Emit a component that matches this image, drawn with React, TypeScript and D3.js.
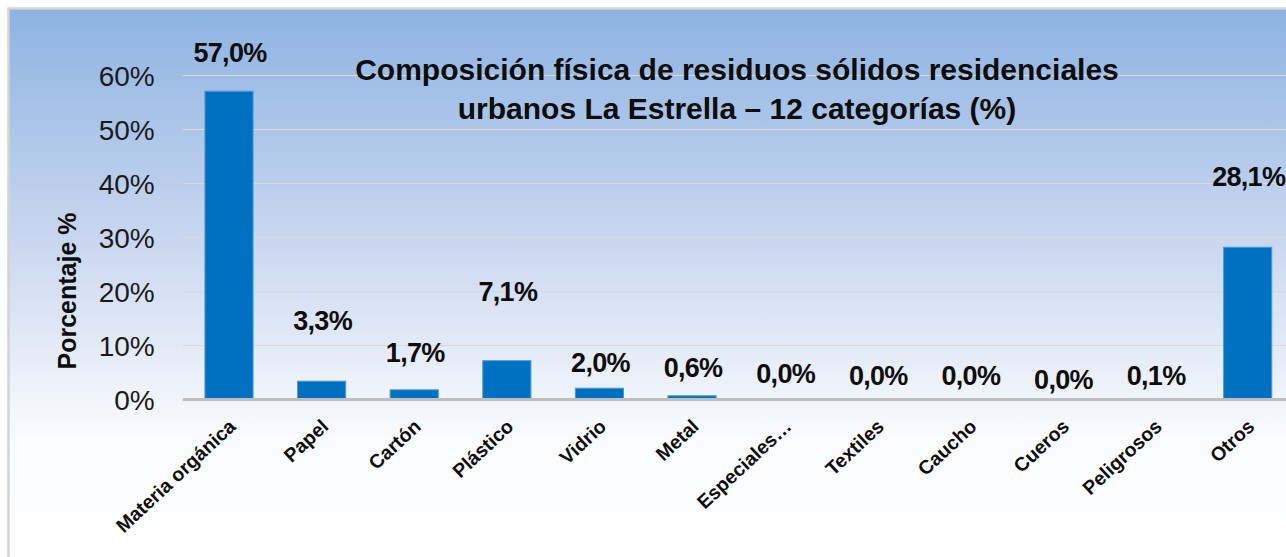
import * as d3 from "d3";
import { useEffect, useRef } from "react";

const categories: string[] = [
  "Materia orgánica",
  "Papel",
  "Cartón",
  "Plástico",
  "Vidrio",
  "Metal",
  "Especiales…",
  "Textiles",
  "Caucho",
  "Cueros",
  "Peligrosos",
  "Otros",
];
const values: number[] = [57.0, 3.3, 1.7, 7.1, 2.0, 0.6, 0.0, 0.0, 0.0, 0.0, 0.1, 28.1];
const yTicks: number[] = [0, 10, 20, 30, 40, 50, 60];
const titleLines: string[] = [
  "Composición física de residuos sólidos residenciales",
  "urbanos La Estrella – 12 categorías (%)",
];
const yTitle = "Porcentaje %";

// data labels were dragged by hand in the original, lift above bar top (px)
const labelLift: number[] = [29, 51, 28, 60, 16, 19, 16, 14, 14, 10, 13, 61];

const FONT = "'Liberation Sans', Arial, sans-serif";

export default function App() {
  const width = 1286;
  const height = 557;
  const plotLeft = 182.7;
  const plotRight = 1294;
  const plotTop = 75;
  const plotBottom = 399;
  const svgRef = useRef<SVGSVGElement>(null);

  useEffect(() => {
    const svg = d3.select(svgRef.current);
    svg.selectAll("*").remove();

    const x = d3
      .scaleBand<string>()
      .domain(categories)
      .range([plotLeft, plotRight])
      .paddingInner(0.48)
      .paddingOuter(0.24);

    const y = d3.scaleLinear().domain([0, 60]).range([plotBottom, plotTop]);

    // fondo degradado
    const grad = svg
      .append("defs")
      .append("linearGradient")
      .attr("id", "bg")
      .attr("x1", 0)
      .attr("y1", 0)
      .attr("x2", 0)
      .attr("y2", 1);
    grad.append("stop").attr("offset", 0).attr("stop-color", "#8db3e2");
    grad.append("stop").attr("offset", 0.4).attr("stop-color", "#c9d7ef");
    grad.append("stop").attr("offset", 0.75).attr("stop-color", "#fbfcfe");
    grad.append("stop").attr("offset", 1).attr("stop-color", "#ffffff");

    svg
      .append("rect")
      .attr("x", 8.5)
      .attr("y", 8.5)
      .attr("width", width + 20)
      .attr("height", height + 20)
      .attr("fill", "url(#bg)")
      .attr("stroke", "#d4d4d4")
      .attr("stroke-width", 2.5);

    // gridlines
    svg
      .append("g")
      .selectAll("line")
      .data(yTicks.filter((d) => d > 0))
      .enter()
      .append("line")
      .attr("x1", plotLeft)
      .attr("x2", plotRight)
      .attr("y1", (d) => Math.round(y(d)) + 0.5)
      .attr("y2", (d) => Math.round(y(d)) + 0.5)
      .attr("stroke", "#d9d9d9")
      .attr("stroke-width", 1);

    // title
    svg
      .append("text")
      .attr("x", 737)
      .attr("y", 80)
      .attr("text-anchor", "middle")
      .attr("font-family", FONT)
      .attr("font-weight", "bold")
      .attr("font-size", 30)
      .attr("fill", "#0d0d0d")
      .selectAll("tspan")
      .data(titleLines)
      .enter()
      .append("tspan")
      .attr("x", 737)
      .attr("dy", (_, i) => (i === 0 ? 0 : 39))
      .text((d) => d);

    // bars
    svg
      .append("g")
      .selectAll("rect")
      .data(values)
      .enter()
      .append("rect")
      .attr("x", (_, i) => x(categories[i])!)
      .attr("y", (d) => y(d))
      .attr("width", x.bandwidth())
      .attr("height", (d) => y(0) - y(d))
      .attr("fill", "#0070c0")
      .attr("stroke", "#4f9ad6")
      .attr("stroke-width", 1);

    // axis line
    svg
      .append("line")
      .attr("x1", plotLeft)
      .attr("x2", plotRight)
      .attr("y1", y(0) + 0.5)
      .attr("y2", y(0) + 0.5)
      .attr("stroke", "#bfbfbf")
      .attr("stroke-width", 3);

    // data labels
    const fmt = d3.format(".1f");
    svg
      .append("g")
      .selectAll("text")
      .data(values)
      .enter()
      .append("text")
      .attr("x", (_, i) => x(categories[i])! + x.bandwidth() / 2 + 1)
      .attr("y", (d, i) => y(d) - labelLift[i])
      .attr("text-anchor", "middle")
      .attr("font-family", FONT)
      .attr("font-weight", "bold")
      .attr("font-size", 27)
      .attr("letter-spacing", -0.7)
      .attr("fill", "#0d0d0d")
      .text((d) => fmt(d).replace(".", ",") + "%");

    // Y axis
    const yAxis = svg
      .append("g")
      .attr("transform", `translate(${plotLeft},0)`)
      .call(
        d3
          .axisLeft(y)
          .tickValues(yTicks)
          .tickSize(0)
          .tickPadding(28)
          .tickFormat((d) => `${d}%`)
      );
    yAxis.select(".domain").remove();
    yAxis
      .selectAll("text")
      .attr("font-family", FONT)
      .attr("font-size", 28)
      .attr("fill", "#1a1a1a")
      .attr("dy", "0.36em");

    // X axis
    const xAxis = svg
      .append("g")
      .attr("transform", `translate(0,${plotBottom})`)
      .call(d3.axisBottom(x).tickSize(0));
    xAxis.select(".domain").remove();
    xAxis
      .selectAll("text")
      .attr("x", 0)
      .attr("y", 0)
      .attr("dy", 0)
      .attr("text-anchor", "end")
      .attr("transform", "translate(8,29) rotate(-43)")
      .attr("font-family", FONT)
      .attr("font-weight", "bold")
      .attr("font-size", 19.5)
      .attr("fill", "#0d0d0d");

    // Y axis title
    svg
      .append("text")
      .attr("transform", `translate(76,291) rotate(-90)`)
      .attr("text-anchor", "middle")
      .attr("font-family", FONT)
      .attr("font-weight", "bold")
      .attr("font-size", 25)
      .attr("fill", "#0d0d0d")
      .text(yTitle);
  }, []);

  return (
    <svg
      ref={svgRef}
      width={width}
      height={height}
      style={{ position: "absolute", left: 0, top: 0, display: "block", background: "#fff" }}
    />
  );
}
